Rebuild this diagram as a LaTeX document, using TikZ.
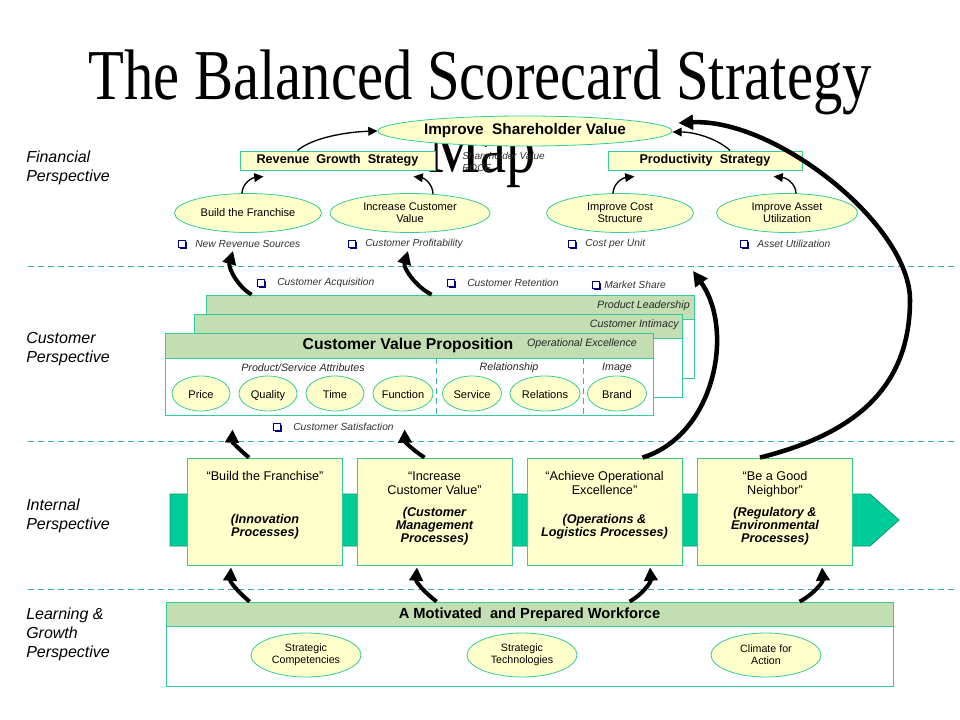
\documentclass[tikz,border=0pt]{standalone}
\usepackage{fontspec}
\setmainfont{Liberation Sans}
\newfontfamily\titlefont{Liberation Serif}
\usepackage{graphicx}
\usetikzlibrary{shapes.geometric,arrows.meta,calc,shadows}
\newdimen\pxu \pxu=0.75pt
\newcommand{\fz}[2]{\fontsize{#1}{#2}\selectfont}
\definecolor{lyel}{HTML}{FFFFCC}
\definecolor{tealb}{HTML}{33CC99}
\definecolor{dashc}{HTML}{3AB0B0}
\definecolor{hdr}{HTML}{C4DEB4}
\definecolor{bandf}{HTML}{00CC99}
\definecolor{bandd}{HTML}{00996B}
\definecolor{navyb}{HTML}{000080}
\begin{document}
\begin{tikzpicture}[x=0.75pt,y=-0.75pt,
  ell/.style={ellipse, draw=tealb, fill=lyel, inner sep=0, align=center, line width=0.6pt},
  cell/.style={ell, minimum height=35\pxu, font=\fz{8.3}{9}, text height=1.6ex, text depth=0.3ex},
  sbox/.style={rectangle, draw=tealb, fill=lyel, inner sep=0, line width=0.7pt, font=\bfseries\fz{9.5}{11}},
  wbox/.style={rectangle, draw=tealb, fill=white, inner sep=0, line width=0.6pt},
  hbox/.style={rectangle, draw=tealb, fill=hdr, inner sep=0, line width=0.6pt},
  ibox/.style={rectangle, draw=tealb, fill=lyel, inner sep=0, line width=0.6pt, minimum width=155\pxu, minimum height=107\pxu},
  itl/.style={anchor=north, inner sep=0, align=center, font=\fz{9.5}{10.5}},
  isub/.style={inner sep=0, align=center, font=\bfseries\itshape\fz{9.5}{9.75}},
  persp/.style={anchor=north west, inner sep=0, align=left, font=\itshape\fz{12}{14.25}},
  bsq/.style={rectangle, draw=navyb, fill=white, minimum size=5pt, inner sep=0, line width=0.6pt,
    drop shadow={shadow xshift=0.9pt, shadow yshift=-0.9pt, fill=navyb, opacity=1}},
  btxt/.style={anchor=west, inner sep=0, font=\itshape\fz{7.7}{9}, text=black!80},
  sublab/.style={inner sep=0, font=\itshape\fz{8}{9}, text=black!85},
  sarr/.style={line width=1pt, -{Triangle[length=7pt,width=6.5pt]}},
  barr/.style={line width=3pt, -{Triangle[length=10pt,width=10pt]}},
  bigarr/.style={line width=3.4pt, -{Triangle[length=11pt,width=11pt]}},
  dl/.style={draw=dashc, line width=0.75pt, dash pattern=on 4.5pt off 3pt}
]
\fill[white] (0,0) rectangle (960,720);
\useasboundingbox (0,0) rectangle (960,720);

% title
\node[inner sep=0, anchor=base, font=\titlefont\fz{44}{50}] (title1) at (480,100) {\scalebox{1}[1.22]{The Balanced Scorecard Strategy}};
\node[inner sep=0, anchor=base, font=\titlefont\fz{44}{50}] (title2) at (482,173) {\scalebox{1}[1.22]{Map}};

% separators
\draw[dl] (28,267) -- (955,267);
\draw[dl] (28,441) -- (955,441);
\draw[dl] (28,589) -- (955,589);

% perspective labels
\node[persp] (pf) at (26,151) {Financial\\Perspective};
\node[persp] (pc) at (26,332) {Customer\\Perspective};
\node[persp] (pi) at (26,499) {Internal\\Perspective};
\node[persp] (pl0) at (26,608) {Learning \&\\Growth\\Perspective};

% ---------- financial ----------
\node[anchor=north west, inner sep=0, align=left, font=\itshape\fz{7.5}{9}, text=black!80] (shv) at (462,152) {Shareholder Value\\ROCE};
\node[ell, minimum width=294\pxu, minimum height=30\pxu, font=\bfseries\fz{11.5}{13}] (isv) at (525,131) {Improve\ \ Shareholder Value};
\node[sbox, minimum width=195\pxu, minimum height=19\pxu] (rgs) at (337.5,160.5) {Revenue\ \ Growth\ \ Strategy};
\node[sbox, minimum width=194\pxu, minimum height=19\pxu] (ps) at (705,160.5) {Productivity\ \ Strategy};

\node[ell, minimum width=147\pxu, minimum height=39\pxu, font=\fz{8.3}{9}] (btf) at (248,213) {Build the Franchise};
\node[ell, minimum width=160\pxu, minimum height=39\pxu, font=\fz{8.3}{9}] (icv) at (410,213) {Increase Customer\\Value};
\node[ell, minimum width=147\pxu, minimum height=39\pxu, font=\fz{8.3}{9}] (ics) at (620,213) {Improve Cost\\Structure};
\node[ell, minimum width=141\pxu, minimum height=39\pxu, font=\fz{8.3}{9}] (iau) at (787,213) {Improve Asset\\Utilization};

\node[bsq] (q1) at (182,244) {};
\node[btxt] (t1) at (195,244) {New Revenue Sources};
\node[bsq] (q2) at (352,244) {};
\node[btxt] (t2) at (365,244) {Customer Profitability};
\node[bsq] (q3) at (572,244) {};
\node[btxt] (t3) at (585,244) {Cost per Unit};
\node[bsq] (q4) at (744,244) {};
\node[btxt] (t4) at (757,244) {Asset Utilization};

\draw[sarr] ($(btf.north)+(-6,0.5)$) .. controls (242,184) and (251,178) .. ($(rgs.south west)+(24,6)$);
\draw[sarr] ($(icv.north)+(23,1)$) .. controls (433,184) and (424,178) .. ($(rgs.south east)+(-22,6)$);
\draw[sarr] ($(ics.north)+(-7,0.5)$) .. controls (613,184) and (622,178) .. ($(ps.south west)+(27,6)$);
\draw[sarr] ($(iau.north)+(9,0.5)$) .. controls (796,184) and (787,178) .. ($(ps.south east)+(-29,6)$);
\draw[sarr] ($(rgs.north)+(-40,0)$) .. controls (312,138) and (345,132) .. (isv.west);
\draw[sarr] ($(ps.north)+(25,0)$) .. controls (718,139) and (695,132) .. ($(isv.east)+(0,1)$);

% ---------- customer ----------
\node[wbox, minimum width=488\pxu, minimum height=83\pxu] (pl) at (450,336.5) {};
\node[hbox, minimum width=488\pxu, minimum height=24\pxu] (plh) at (450,307) {};
\node[anchor=east, inner sep=0, font=\itshape\fz{8}{9}, text=black!85] (plt) at (690,306) {Product Leadership};
\node[wbox, minimum width=488\pxu, minimum height=83\pxu] (ci) at (438,355.5) {};
\node[hbox, minimum width=488\pxu, minimum height=24\pxu] (cih) at (438,326) {};
\node[anchor=east, inner sep=0, font=\itshape\fz{8}{9}, text=black!85] (cit) at (679,325) {Customer Intimacy};
\node[wbox, minimum width=488\pxu, minimum height=82\pxu] (cvp) at (409,374) {};
\node[hbox, minimum width=488\pxu, minimum height=25\pxu] (cvph) at (409,345.5) {};
\node[inner sep=0, font=\bfseries\fz{11.8}{13}] (cvpt) at (408,345.5) {Customer Value Proposition};
\node[inner sep=0, font=\itshape\fz{8}{9}, text=black!85] (oet) at (582,344) {Operational Excellence};

\draw[dl] (436,358) -- (436,415);
\draw[dl] (583,358) -- (583,415);

\node[sublab] (s1) at (303,367.5) {Product/Service Attributes};
\node[sublab] (s2) at (509,367.5) {Relationship};
\node[sublab] (s3) at (617,367.5) {Image};

\node[cell, minimum width=58\pxu] (e1) at (201,393.5) {Price};
\node[cell, minimum width=58\pxu] (e2) at (268,393.5) {Quality};
\node[cell, minimum width=58\pxu] (e3) at (335,393.5) {Time};
\node[cell, minimum width=60\pxu] (e4) at (403,393.5) {Function};
\node[cell, minimum width=59\pxu] (e5) at (472,393.5) {Service};
\node[cell, minimum width=70\pxu] (e6) at (545,393.5) {Relations};
\node[cell, minimum width=59\pxu] (e7) at (617,393.5) {Brand};

\node[bsq] (q5) at (261,283) {};
\node[btxt] (t5) at (277,283) {Customer Acquisition};
\node[bsq] (q6) at (451,283) {};
\node[btxt] (t6) at (467,283) {Customer Retention};
\node[bsq] (q7) at (596,285) {};
\node[btxt] (t7) at (604,285) {Market Share};
\node[bsq] (q8) at (277,427) {};
\node[btxt] (t8) at (293,427) {Customer Satisfaction};

% ---------- internal ----------
\draw[fill=bandf, draw=bandd, line width=0.6pt] (170,494) -- (870,494) -- (899,520) -- (870,546) -- (170,546) -- cycle;
\node[ibox] (bf) at (265,511.5) {};
\node[ibox] (icvb) at (434.5,511.5) {};
\node[ibox] (ae) at (604.5,511.5) {};
\node[ibox] (gn) at (775,511.5) {};
\node[itl] (bft) at (265,471.5) {“Build the Franchise”};
\node[itl] (icvt) at (434.5,471.5) {“Increase\\Customer Value”};
\node[itl] (aet) at (604.5,471.5) {“Achieve Operational\\Excellence”};
\node[itl] (gnt) at (775,471.5) {“Be a Good\\Neighbor”};
\node[isub] (bfs) at (265,526.5) {(Innovation\\Processes)};
\node[isub] (icvs) at (434.5,526) {(Customer\\Management\\Processes)};
\node[isub] (aes) at (604.5,526.5) {(Operations \&\\Logistics Processes)};
\node[isub] (gns) at (775,526) {(Regulatory \&\\Environmental\\Processes)};

% ---------- learning ----------
\node[wbox, minimum width=727\pxu, minimum height=84\pxu] (lw) at (529.5,644) {};
\node[hbox, minimum width=727\pxu, minimum height=24\pxu] (lwh) at (529.5,614) {};
\node[inner sep=0, font=\bfseries\fz{11}{13}] (lwt) at (529.5,614.5) {A Motivated\ \ and Prepared Workforce};
\node[ell, minimum width=110\pxu, minimum height=44\pxu, font=\fz{8}{9}] (sc) at (306,655) {Strategic\\Competencies};
\node[ell, minimum width=110\pxu, minimum height=44\pxu, font=\fz{8}{9}] (st) at (522,655) {Strategic\\Technologies};
\node[ell, minimum width=110\pxu, minimum height=44\pxu, font=\fz{8}{9}] (ca) at (766,655) {Climate for\\Action};

% ---------- thick arrows ----------
\coordinate (nrs) at (233,251);
\coordinate (cpf) at (408,251);
\coordinate (fin) at (693,271);
\draw[barr] ($(pl.north west)+(46,0)$) .. controls (238,287) and (228,268) .. (nrs);
\draw[barr] ($(pl.north west)+(226,0)$) .. controls (416,287) and (403,268) .. (cpf);
\draw[barr] ($(bf.north)+(-16,0)$) .. controls (240,450) and (232,442) .. ($(cvp.south west)+(68,14)$);
\draw[barr] ($(icvb.north)+(-10,0)$) .. controls (413,450) and (405,442) .. ($(cvp.south west)+(240,14)$);
\draw[barr] ($(lw.north west)+(84,0)$) .. controls (238,592) and (230,582) .. ($(bf.south)+(-34,2)$);
\draw[barr] ($(lw.north west)+(271,0)$) .. controls (424,592) and (416,582) .. ($(icvb.south)+(-17.5,2)$);
\draw[barr] ($(lw.north west)+(464,0)$) .. controls (643,594) and (651,582) .. ($(ae.south)+(45.5,2)$);
\draw[barr] ($(lw.north west)+(634,0)$) .. controls (814,594) and (823,582) .. ($(gn.south)+(47,2)$);
\draw[bigarr] ($(ae.north)+(38,0)$) .. controls (715,435) and (735,330) .. (fin);
\draw[bigarr] ($(gn.north)+(-15,0)$) .. controls (845,436) and (910,395) .. (910,300) .. controls (910,225) and (775,118) .. ($(isv.east)+(6,-8)$);
\end{tikzpicture}
\end{document}
